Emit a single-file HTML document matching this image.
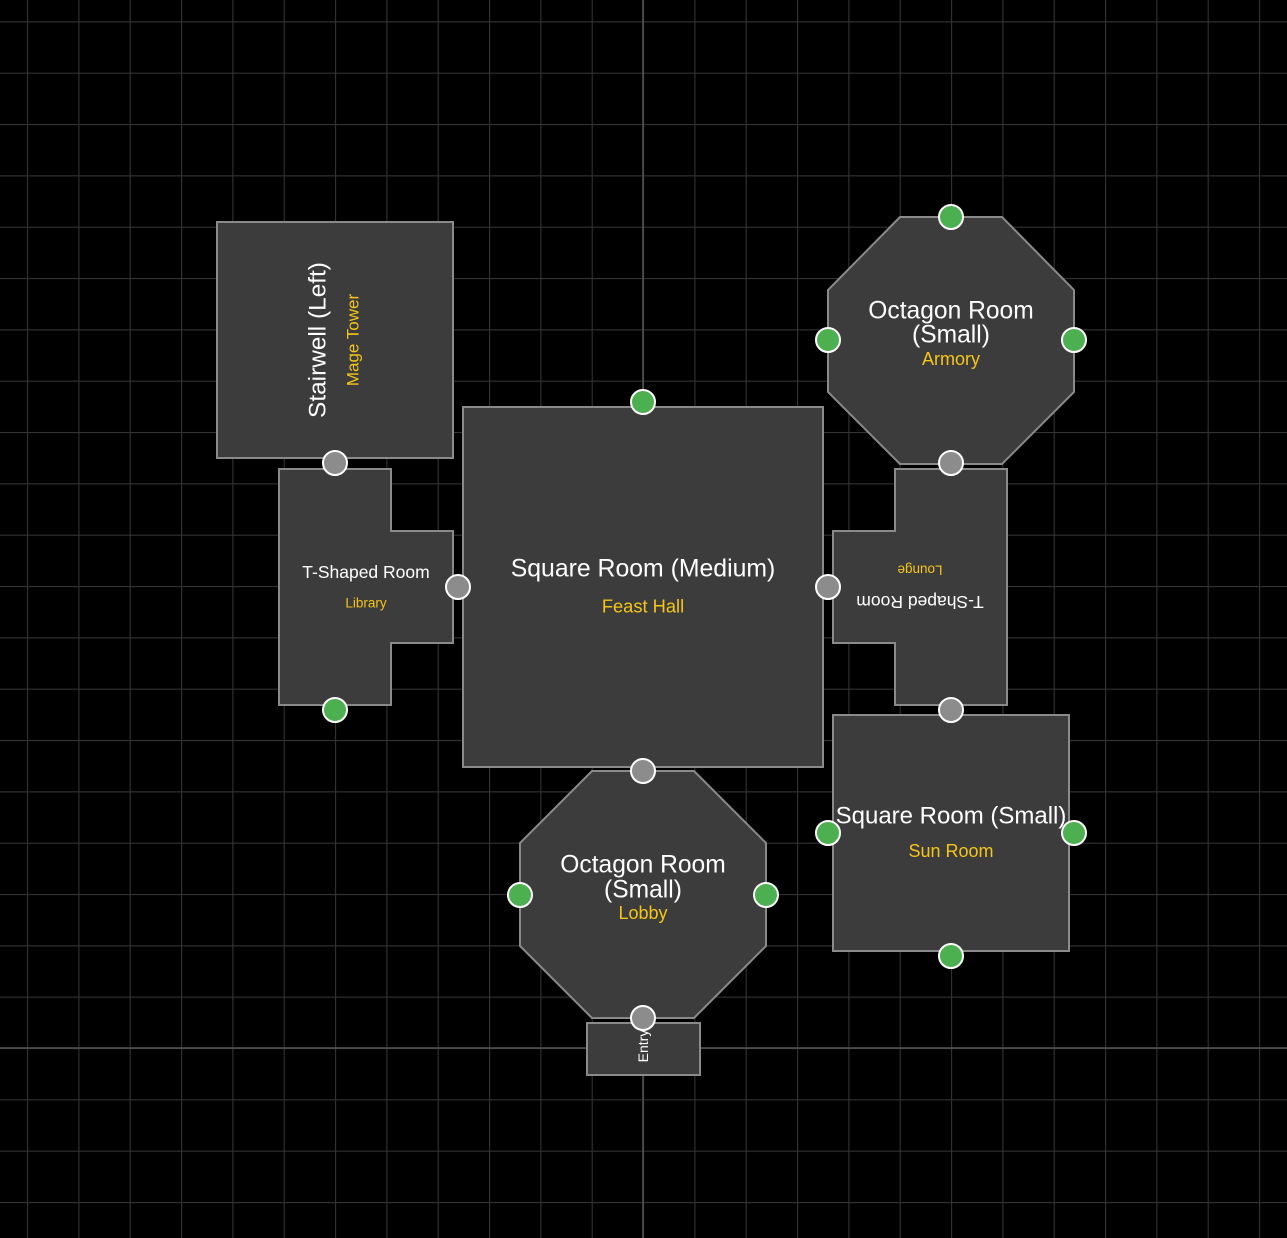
<!DOCTYPE html>
<html><head><meta charset="utf-8"><style>html,body{margin:0;padding:0;background:#000;}svg{display:block}</style></head>
<body>
<svg width="1287" height="1238" viewBox="0 0 1287 1238" xmlns="http://www.w3.org/2000/svg" font-family="Liberation Sans, Arial, sans-serif">
<defs>
<pattern id="g" x="27" y="21.3" width="51.333" height="51.333" patternUnits="userSpaceOnUse">
<path d="M0.5 0V51.333M0 0.5H51.333" stroke="#333" stroke-width="1.2" fill="none"/>
</pattern>
</defs>
<rect width="1287" height="1238" fill="#000"/>
<rect width="1287" height="1238" fill="url(#g)"/>
<line x1="643" y1="0" x2="643" y2="1238" stroke="#555" stroke-width="1.5"/>
<line x1="0" y1="1048" x2="1287" y2="1048" stroke="#555" stroke-width="1.5"/>
<g fill="#3c3c3c" stroke="#8a8a8a" stroke-width="2">
<rect x="217" y="222" width="236" height="236"/>
<polygon points="279,469 391,469 391,531 453,531 453,643 391,643 391,705 279,705"/>
<rect x="463" y="407" width="360" height="360"/>
<polygon points="900,217 1002,217 1074,290 1074,392 1002,464 900,464 828,392 828,290"/>
<polygon points="895,469 1007,469 1007,705 895,705 895,643 833,643 833,531 895,531"/>
<rect x="833" y="715" width="236" height="236"/>
<polygon points="592,771 694,771 766,843 766,946 694,1018 592,1018 520,946 520,843"/>
<rect x="587" y="1023" width="113" height="52"/>
</g>
<g text-anchor="middle" dominant-baseline="central">
<text x="318" y="340" fill="#fff" font-size="24.4" transform="rotate(-90 318 340)">Stairwell (Left)</text>
<text x="353" y="340" fill="#f5c518" font-size="17" transform="rotate(-90 353 340)">Mage Tower</text>
<text x="366" y="572" fill="#fff" font-size="17.5">T-Shaped Room</text>
<text x="366" y="603" fill="#f5c518" font-size="13.5">Library</text>
<text x="643" y="569" fill="#fff" font-size="24.8">Square Room (Medium)</text>
<text x="643" y="606" fill="#f5c518" font-size="18.3">Feast Hall</text>
<text x="951" y="311" fill="#fff" font-size="24.6">Octagon Room</text>
<text x="951" y="335" fill="#fff" font-size="24.6">(Small)</text>
<text x="951" y="359" fill="#f5c518" font-size="18">Armory</text>
<g transform="rotate(180 920 587)">
<text x="920" y="572" fill="#fff" font-size="17.5">T-Shaped Room</text>
<text x="920" y="604" fill="#f5c518" font-size="13.5">Lounge</text>
</g>
<text x="951" y="816" fill="#fff" font-size="24">Square Room (Small)</text>
<text x="951" y="851" fill="#f5c518" font-size="18">Sun Room</text>
<text x="643" y="865" fill="#fff" font-size="24.6">Octagon Room</text>
<text x="643" y="890" fill="#fff" font-size="24.6">(Small)</text>
<text x="643" y="913" fill="#f5c518" font-size="18">Lobby</text>
<text x="643" y="1046" fill="#fff" font-size="14" transform="rotate(-90 643 1046)">Entry</text>
</g>
<g stroke="#fff" stroke-width="2">
<g fill="#4caf50">
<circle cx="643" cy="402" r="12"/><circle cx="951" cy="217" r="12"/>
<circle cx="828" cy="340" r="12"/><circle cx="1074" cy="340" r="12"/>
<circle cx="335" cy="710" r="12"/><circle cx="828" cy="833" r="12"/>
<circle cx="1074" cy="833" r="12"/><circle cx="951" cy="956" r="12"/>
<circle cx="520" cy="895" r="12"/><circle cx="766" cy="895" r="12"/>
</g>
<g fill="#8c8c8c">
<circle cx="335" cy="463" r="12"/><circle cx="458" cy="587" r="12"/>
<circle cx="828" cy="587" r="12"/><circle cx="951" cy="463" r="12"/>
<circle cx="951" cy="710" r="12"/><circle cx="643" cy="771" r="12"/>
<circle cx="643" cy="1018" r="12"/>
</g>
</g>
</svg>
</body></html>
